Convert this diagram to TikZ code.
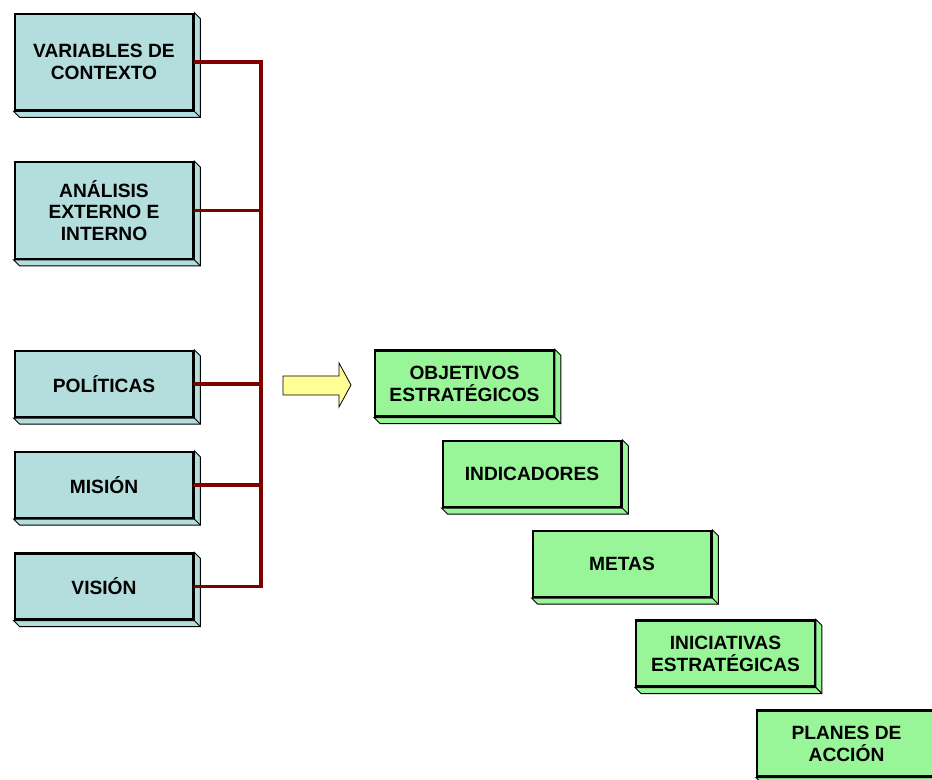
\documentclass[tikz,border=0pt]{standalone}
\usepackage{fontspec}
\setmainfont{Liberation Sans}
\usetikzlibrary{backgrounds}
\definecolor{ctxfill}{RGB}{180,221,221}
\definecolor{objfill}{RGB}{152,246,152}
\definecolor{busred}{RGB}{128,0,0}
\definecolor{arrowfill}{RGB}{255,255,150}

\begin{document}
\begin{tikzpicture}[x=0.75pt,y=-0.75pt,
    box/.style={draw, line width=1.6pt, minimum width=134pt, minimum height=49.5pt,
        inner sep=0pt, align=center, font=\bfseries\fontsize{14.4}{16.4}\selectfont},
    ctxbox/.style={box, fill=ctxfill},
    objbox/.style={box, fill=objfill},
    tallbox/.style={minimum height=72.5pt},
    side/.style={draw, line width=0.7pt},
    bus/.style={draw=busred, line width=2.8pt}]
    \useasboundingbox (0,0) rectangle (932,780);
    % left column
    \node[ctxbox, tallbox] (ctx) at (104,62) {VARIABLES DE\\CONTEXTO};
    \node[ctxbox, tallbox] (ana) at (104,210.5) {ANÁLISIS\\EXTERNO E\\INTERNO};
    \node[ctxbox] (pol) at (104,384) {POLÍTICAS};
    \node[ctxbox] (mis) at (104,485) {MISIÓN};
    \node[ctxbox] (vis) at (104,586.5) {VISIÓN};
    % right staircase
    \node[objbox] (obj) at (464.5,383.5) {OBJETIVOS\\ESTRATÉGICOS};
    \node[objbox] (ind) at (532,474) {INDICADORES};
    \node[objbox] (met) at (622,564) {METAS};
    \node[objbox] (ini) at (725.5,653.5) {INICIATIVAS\\ESTRATÉGICAS};
    \node[objbox] (pla) at (846.5,743.5) {PLANES DE\\ACCIÓN};
    % bevel
    \begin{scope}[on background layer]
    \foreach \n/\c in {ctx/ctxfill,ana/ctxfill,pol/ctxfill,mis/ctxfill,vis/ctxfill,
            obj/objfill,ind/objfill,met/objfill,ini/objfill,pla/objfill} {
        \draw[side, fill=\c] (\n.north east) -- ([shift={(6,6)}]\n.north east)
            -- ([shift={(6,6)}]\n.south east) -- ([shift={(6,6)}]\n.south west)
            -- (\n.south west) -- (\n.south east) -- cycle;
        \draw[side] (\n.south east) -- ([shift={(6,6)}]\n.south east);
    }
    \end{scope}
    % bus
    \coordinate (bus) at (261,0);
    \draw[bus] (ctx.east) -| (bus |- vis.east) -- (vis.east);
    \foreach \n in {ana,pol,mis}
        \draw[bus] (\n.east) -- (\n.east -| bus);
    % arrow
    \draw[fill=arrowfill, line width=0.6pt] (283,376) -- (339,376) -- (339,363) -- (351,385)
        -- (339,407) -- (339,395) -- (283,395) -- cycle;
\end{tikzpicture}
\end{document}
